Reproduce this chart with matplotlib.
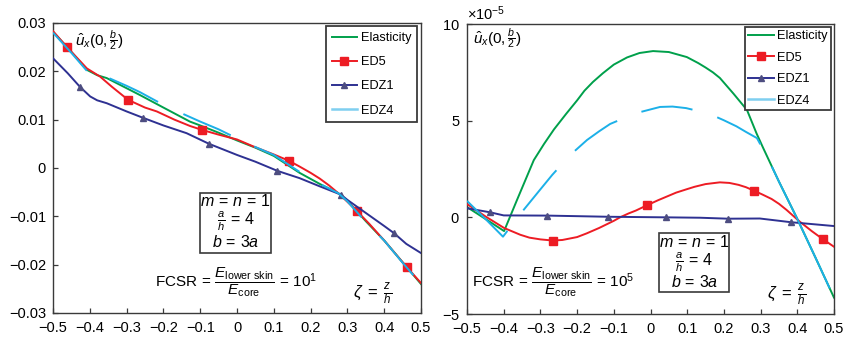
import numpy as np
import matplotlib
matplotlib.use("Agg")
import matplotlib.pyplot as plt
import matplotlib.patches as patches
from matplotlib.lines import Line2D
from matplotlib.ticker import FuncFormatter, ScalarFormatter

# ── STYLE ─────────────────────────────────────────────────────────────────────
plt.rcParams["font.family"] = ["Liberation Sans", "DejaVu Sans"]
plt.rcParams["mathtext.fontset"] = "custom"
plt.rcParams["mathtext.rm"] = "Liberation Sans"
plt.rcParams["mathtext.it"] = "Liberation Sans:italic"
plt.rcParams["mathtext.bf"] = "Liberation Sans:bold"
plt.rcParams["mathtext.sf"] = "Liberation Sans"
plt.rcParams["lines.scale_dashes"] = False

C_EL = "#00a04b"
C_ED5 = "#ed1c24"
C_EDZ1 = "#2e3192"
C_EDZ1_MK = "#4d4d80"
C_EDZ4 = "#1cb0e8"
FRAME = "#3a3a3a"

# ── DATA: left panel (FCSR = 10^1) ────────────────────────────────────────────
el_l_x = [-0.5, -0.45, -0.408, -0.38, -0.354, -0.3, -0.264, -0.2, -0.128, -0.1, -0.05,
          0.0, 0.05, 0.1, 0.17, 0.225, 0.275, 0.3, 0.35, 0.4, 0.45, 0.5]
el_l_y = [0.0282, 0.0240, 0.0203, 0.0192, 0.0186, 0.0165, 0.0151, 0.0125, 0.0096, 0.0088, 0.0073,
          0.0057, 0.0042, 0.0025, -0.0010, -0.0033, -0.0052, -0.0068, -0.0110, -0.0150, -0.0195, -0.0240]

ed5_l_x = [-0.5, -0.463, -0.408, -0.372, -0.34, -0.296, -0.25, -0.218, -0.17, -0.128, -0.096,
           -0.05, 0.0, 0.043, 0.1, 0.141, 0.17, 0.2, 0.225, 0.25, 0.275, 0.3, 0.327, 0.36,
           0.4, 0.461, 0.5]
ed5_l_y = [0.0283, 0.0251, 0.0206, 0.0189, 0.0168, 0.0141, 0.0125, 0.0117, 0.0100, 0.0087, 0.0079,
           0.0069, 0.0059, 0.0045, 0.0028, 0.0015, 0.0003, -0.0010, -0.0022, -0.0036, -0.0052, -0.0070,
           -0.0090, -0.0116, -0.0150, -0.0205, -0.0238]
ed5_l_mx = [-0.463, -0.296, -0.096, 0.141, 0.327, 0.461]
ed5_l_my = [0.0251, 0.0141, 0.0079, 0.0015, -0.0090, -0.0205]

edz1_l_x = [-0.5, -0.46, -0.427, -0.399, -0.38, -0.354, -0.3, -0.256, -0.2, -0.137, -0.076,
            0.0, 0.05, 0.11, 0.17, 0.225, 0.282, 0.3, 0.35, 0.4, 0.427, 0.46, 0.5]
edz1_l_y = [0.0227, 0.0196, 0.0168, 0.0148, 0.0140, 0.0134, 0.0117, 0.0104, 0.0088, 0.0072, 0.0050,
            0.0027, 0.0013, -0.0006, -0.0021, -0.0038, -0.0055, -0.0066, -0.0093, -0.0120, -0.0135,
            -0.0157, -0.0176]
edz1_l_mx = [-0.427, -0.256, -0.076, 0.110, 0.282, 0.427]
edz1_l_my = [0.0168, 0.0104, 0.0050, -0.0006, -0.0055, -0.0135]

edz4_l_x = [-0.5, -0.45, -0.408, -0.38, -0.354, -0.3, -0.264, -0.218, -0.147, -0.1, -0.05,
            -0.018, 0.045, 0.1, 0.168, 0.225, 0.275, 0.3, 0.35, 0.4, 0.45, 0.5]
edz4_l_y = [0.0280, 0.0238, 0.0201, 0.0192, 0.0188, 0.0170, 0.0157, 0.0138, 0.0112, 0.0096, 0.0080,
            0.0068, 0.0045, 0.0027, -0.0007, -0.0033, -0.0052, -0.0069, -0.0112, -0.0150, -0.0196,
            -0.0240]

# ── DATA: right panel (FCSR = 10^5), values in units of 1e-5 ──────────────────
el_r_x = [-0.5, -0.45, -0.399, -0.364, -0.318, -0.29, -0.263, -0.23, -0.2, -0.18, -0.157, -0.13,
          -0.1, -0.064, -0.03, 0.007, 0.05, 0.099, 0.13, 0.15, 0.17, 0.189, 0.226, 0.263, 0.289,
          0.307, 0.35, 0.399, 0.45, 0.5]
el_r_y = [0.53, -0.08, -0.71, 0.89, 2.96, 3.80, 4.55, 5.35, 6.05, 6.55, 7.0, 7.45,
          7.90, 8.27, 8.50, 8.60, 8.55, 8.29, 7.98, 7.75, 7.50, 7.21, 6.40, 5.55, 4.34,
          3.59, 1.85, -0.04, -2.10, -4.15]

ed5_r_x = [-0.5, -0.45, -0.399, -0.355, -0.33, -0.3, -0.266, -0.24, -0.2, -0.174, -0.14, -0.1,
           -0.083, -0.06, -0.04, -0.01, 0.02, 0.05, 0.07, 0.098, 0.12, 0.15, 0.189, 0.215, 0.24,
           0.26, 0.282, 0.305, 0.33, 0.35, 0.371, 0.406, 0.44, 0.469, 0.5]
ed5_r_y = [0.69, 0.05, -0.55, -0.90, -1.05, -1.14, -1.20, -1.17, -1.02, -0.83, -0.55, -0.18,
           0.0, 0.20, 0.35, 0.62, 0.88, 1.12, 1.28, 1.45, 1.58, 1.72, 1.81, 1.78, 1.68,
           1.56, 1.38, 1.18, 0.95, 0.70, 0.38, -0.21, -0.72, -1.12, -1.52]
ed5_r_mx = [-0.266, -0.01, 0.282, 0.469]
ed5_r_my = [-1.20, 0.62, 1.38, -1.12]

edz1_r_x = [-0.5, -0.437, -0.4, -0.28, -0.115, 0.042, 0.135, 0.212, 0.298, 0.382, 0.5]
edz1_r_y = [0.47, 0.26, 0.10, 0.09, 0.03, 0.0, -0.02, -0.07, -0.06, -0.25, -0.45]
edz1_r_mx = [-0.437, -0.281, -0.115, 0.042, 0.212, 0.382]
edz1_r_my = [0.26, 0.09, 0.03, 0.0, -0.07, -0.25]

edz4_r_x = [-0.5, -0.45, -0.402, -0.358, -0.3, -0.268, -0.219, -0.173, -0.14, -0.11, -0.07,
            -0.037, 0.026, 0.06, 0.097, 0.13, 0.168, 0.2, 0.234, 0.26, 0.29, 0.32, 0.35, 0.399,
            0.45, 0.5]
edz4_r_y = [0.85, -0.08, -1.0, 0.10, 1.45, 2.19, 3.22, 4.0, 4.45, 4.83, 5.15,
            5.40, 5.71, 5.73, 5.65, 5.50, 5.29, 5.02, 4.71, 4.42, 4.10, 3.05, 1.85, -0.04,
            -2.10, -4.15]

SCALE_R = 1e-5

# ── FIGURE ────────────────────────────────────────────────────────────────────
fig = plt.figure(figsize=(8.43, 3.39), dpi=100)
ax_l = fig.add_axes([0.0629, 0.0767, 0.4365, 0.8555])
ax_r = fig.add_axes([0.554, 0.0737, 0.4353, 0.8555])


def fmt_g(v, pos):
    v = round(v, 6) + 0.0
    if abs(v) < 1e-12:
        return "0"
    return f"{v:g}".replace("-", "\u2212")


def style_axes(ax):
    for sp in ax.spines.values():
        sp.set_color(FRAME)
        sp.set_linewidth(1.0)
    ax.tick_params(direction="in", length=3.5, width=0.9, color=FRAME,
                   labelsize=10.5, top=False, right=False)
    ax.tick_params(axis="x", pad=6)
    ax.tick_params(axis="y", pad=5)
    ax.set_xlim(-0.5, 0.5)
    ax.set_xticks(np.round(np.arange(-0.5, 0.51, 0.1), 2))
    ax.xaxis.set_major_formatter(FuncFormatter(fmt_g))


def draw(ax, x_el, y_el, x5, y5, mx5, my5, x1, y1, mx1, my1, x4, y4, dash, scale=1.0):
    s = np.asarray
    ax.plot(s(x_el), s(y_el) * scale, color=C_EL, lw=1.4, zorder=2)
    ax.plot(s(x5), s(y5) * scale, color=C_ED5, lw=1.4, zorder=3)
    ax.plot(s(mx5), s(my5) * scale, ls="none", marker="s", ms=6, color=C_ED5, zorder=3)
    ax.plot(s(x1), s(y1) * scale, color=C_EDZ1, lw=1.4, zorder=4)
    ax.plot(s(mx1), s(my1) * scale, ls="none", marker="^", ms=4.5, color=C_EDZ1_MK, zorder=4)
    ax.plot(s(x4), s(y4) * scale, color=C_EDZ4, lw=1.4, ls=dash, zorder=5)


handles = [
    Line2D([], [], color=C_EL, lw=1.4),
    Line2D([], [], color=C_ED5, lw=1.4, marker="s", ms=6),
    Line2D([], [], color=C_EDZ1, lw=1.4, marker="^", ms=4.5, mfc=C_EDZ1_MK, mec=C_EDZ1_MK),
    Line2D([], [], color="#7fcff0", lw=1.8),
]
labels = ["Elasticity", "ED5", "EDZ1", "EDZ4"]

# left panel
draw(ax_l, el_l_x, el_l_y, ed5_l_x, ed5_l_y, ed5_l_mx, ed5_l_my,
     edz1_l_x, edz1_l_y, edz1_l_mx, edz1_l_my, edz4_l_x, edz4_l_y,
     dash=(0, (36.7, 17.3, 38.9, 20.2, 37.4, 18.7, 37.4, 18.7, 37.4, 18.7, 37.4, 18.7)))
style_axes(ax_l)
ax_l.set_ylim(-0.03, 0.03)
ax_l.set_yticks(np.round(np.arange(-0.03, 0.031, 0.01), 2))
ax_l.yaxis.set_major_formatter(FuncFormatter(fmt_g))

# right panel
draw(ax_r, el_r_x, el_r_y, ed5_r_x, ed5_r_y, ed5_r_mx, ed5_r_my,
     edz1_r_x, edz1_r_y, edz1_r_mx, edz1_r_my, edz4_r_x, edz4_r_y,
     dash=(0, (41.8, 18.7, 37.4, 19.4, 37.4, 18.7, 37.4, 18.7, 37.4, 18.0, 97.2, 40.0)),
     scale=SCALE_R)
style_axes(ax_r)
ax_r.set_ylim(-5e-5, 10e-5)
ax_r.set_yticks([-5e-5, 0, 5e-5, 10e-5])
sf = ScalarFormatter(useMathText=True)
ax_r.yaxis.set_major_formatter(sf)
ax_r.ticklabel_format(axis="y", style="sci", scilimits=(-5, -5))
ax_r.yaxis.get_offset_text().set_fontsize(10.5)

# legends
for ax, anchor, spacing, bpad in [(ax_l, (0.99, 0.988), 0.95, 0.45),
                                  (ax_r, (0.992, 0.99), 0.75, 0.25)]:
    leg = ax.legend(handles, labels, loc="upper right", bbox_to_anchor=anchor,
                    borderaxespad=0, fontsize=9.2, fancybox=False, framealpha=1,
                    handlelength=2.0, handletextpad=0.3, labelspacing=spacing,
                    borderpad=bpad)
    leg.get_frame().set_edgecolor(FRAME)
    leg.get_frame().set_linewidth(1.3)

# annotations
TXT = 11
ax_l.text(0.06, 0.938, r"$\hat{u}_x(0,\frac{b}{2})$", transform=ax_l.transAxes,
          fontsize=TXT, ha="left", va="center")
ax_r.text(0.016, 0.948, r"$\hat{u}_x(0,\frac{b}{2})$", transform=ax_r.transAxes,
          fontsize=TXT, ha="left", va="center")

box_specs = [
    (ax_l, (0.399, 0.207, 0.193, 0.207), 0.496, [0.386, 0.315, 0.246]),
    (ax_r, (0.524, 0.075, 0.191, 0.203), 0.619, [0.250, 0.180, 0.109]),
]
box_lines = [r"$m\,=\,n\,=\,1$", r"$\frac{a}{h}\,=\,4$", r"$b\,=\,3a$"]
for ax, (bx, by, bw, bh), cx, ys in box_specs:
    ax.add_patch(patches.Rectangle((bx, by), bw, bh, transform=ax.transAxes,
                                   fill=False, ec=FRAME, lw=1.2, zorder=6))
    for t, yy in zip(box_lines, ys):
        ax.text(cx, yy, t, transform=ax.transAxes, fontsize=11.5,
                ha="center", va="center", zorder=7)

ax_l.text(0.277, 0.107, r"FCSR$\,=\,\dfrac{E_{\mathrm{lower\ skin}}}{E_{\mathrm{core}}}\,=\,10^1$",
          transform=ax_l.transAxes, fontsize=TXT, ha="left", va="center")
ax_r.text(0.013, 0.110, r"FCSR$\,=\,\dfrac{E_{\mathrm{lower\ skin}}}{E_{\mathrm{core}}}\,=\,10^5$",
          transform=ax_r.transAxes, fontsize=TXT, ha="left", va="center")

ax_l.text(0.815, 0.066, r"$\zeta\;=\;\frac{z}{h}$", transform=ax_l.transAxes,
          fontsize=12, ha="left", va="center")
ax_r.text(0.817, 0.066, r"$\zeta\;=\;\frac{z}{h}$", transform=ax_r.transAxes,
          fontsize=12, ha="left", va="center")

fig.savefig("out.png", dpi=100)
